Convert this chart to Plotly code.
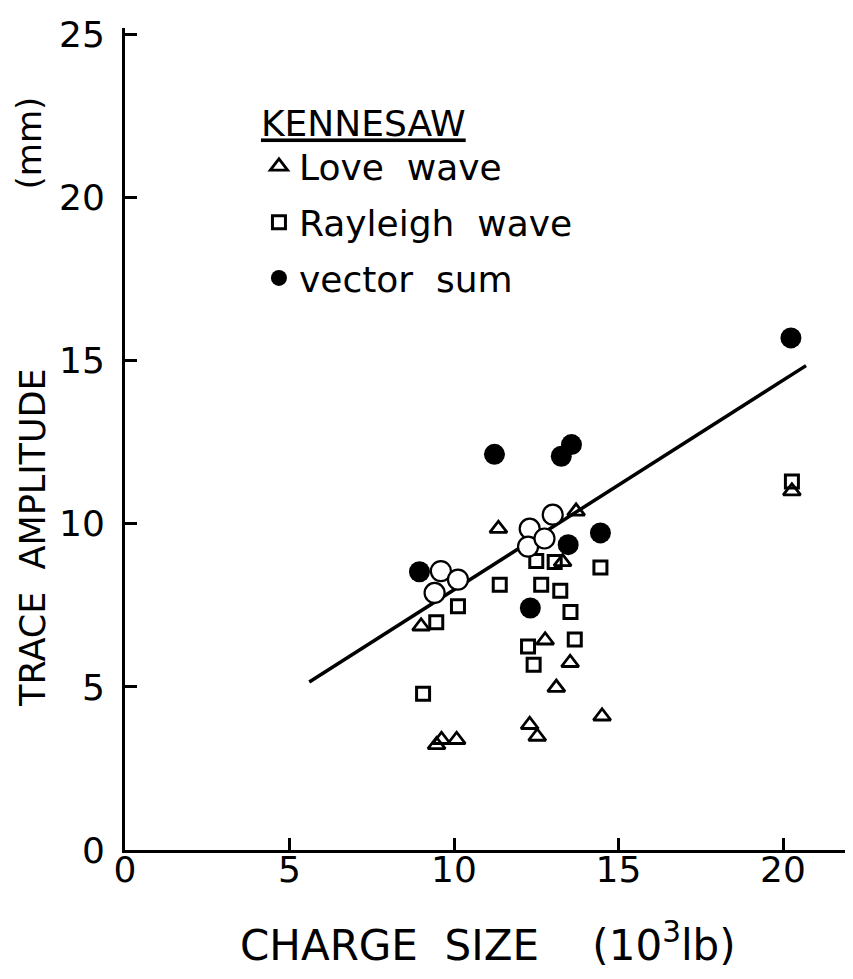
import plotly.graph_objects as go

# ---- data ----
love_x = [11.35, 13.71, 13.30, 9.00, 12.77, 13.53, 13.11, 14.50, 12.30, 12.53, 9.47, 9.62, 10.08, 20.27]
love_y = [9.85, 10.38, 8.83, 6.86, 6.43, 5.74, 4.98, 4.10, 3.84, 3.48, 3.22, 3.38, 3.38, 11.00]

rayleigh_x = [12.50, 13.06, 14.45, 11.39, 12.65, 13.23, 10.12, 13.54, 9.46, 12.25, 13.67, 12.42, 9.06, 20.27]
rayleigh_y = [8.86, 8.83, 8.66, 8.13, 8.13, 7.95, 7.47, 7.30, 6.98, 6.24, 6.45, 5.68, 4.79, 11.30]

vector_x = [11.23, 13.26, 13.57, 8.95, 12.32, 13.47, 14.45, 20.24]
vector_y = [12.13, 12.07, 12.43, 8.53, 7.42, 9.36, 9.72, 15.70]

# faded (poorly reproduced) vector-sum circles
vector_faded_x = [9.60, 9.41, 10.12, 12.30, 12.25, 12.75, 13.00]
vector_faded_y = [8.55, 7.88, 8.29, 9.85, 9.30, 9.55, 10.28]

fit_x = [5.6, 20.7]
fit_y = [5.15, 14.85]

x_ticks = [0, 5, 10, 15, 20]
y_ticks = [0, 5, 10, 15, 20, 25]

FONT = "DejaVu Sans"

fig = go.Figure()

fig.add_trace(go.Scatter(
    x=fit_x, y=fit_y, mode="lines", showlegend=False,
    line=dict(color="black", width=3.5)))

fig.add_trace(go.Scatter(
    x=love_x, y=love_y, mode="markers", name="Love  wave", legendgroup="a",
    marker=dict(symbol="triangle-up-open", size=15, color="black",
                line=dict(color="black", width=2.8))))

fig.add_trace(go.Scatter(
    x=rayleigh_x, y=rayleigh_y, mode="markers", name="Rayleigh  wave", legendgroup="b",
    marker=dict(symbol="square-open", size=13, color="black",
                line=dict(color="black", width=3))))

fig.add_trace(go.Scatter(
    x=vector_faded_x, y=vector_faded_y, mode="markers", showlegend=False,
    marker=dict(symbol="circle", size=20, color="white",
                line=dict(color="black", width=2.2))))

fig.add_trace(go.Scatter(
    x=vector_x, y=vector_y, mode="markers", name="vector  sum", legendgroup="c",
    marker=dict(symbol="circle", size=21, color="black",
                line=dict(color="black", width=0))))

fig.update_layout(
    width=853, height=979,
    margin=dict(l=117, r=0, t=20, b=137),
    paper_bgcolor="white", plot_bgcolor="white",
    font=dict(family=FONT, color="black"),
    showlegend=True,
    legend=dict(
        x=0.182, y=0.925, xanchor="left", yanchor="top",
        bgcolor="rgba(0,0,0,0)", borderwidth=0,
        font=dict(family=FONT, size=36, color="black"),
        title=dict(text="<u>KENNESAW</u>", side="top",
                   font=dict(family=FONT, size=36, color="black")),
        tracegroupgap=6, itemsizing="trace",
    ),
    xaxis=dict(
        range=[0, 22.37], tickmode="array", tickvals=x_ticks,
        ticktext=[str(v) for v in x_ticks],
        ticks="inside", ticklen=12, tickwidth=2.5, tickcolor="black",
        showline=True, linecolor="black", linewidth=3,
        showgrid=False, zeroline=False,
        tickfont=dict(family=FONT, size=36, color="black"),
        ticklabelstandoff=-14,
    ),
    yaxis=dict(
        range=[0, 25.2], tickmode="array", tickvals=y_ticks,
        ticktext=[str(v) for v in y_ticks],
        ticks="inside", ticklen=12, tickwidth=2.5, tickcolor="black",
        showline=True, linecolor="black", linewidth=3,
        showgrid=False, zeroline=False,
        tickfont=dict(family=FONT, size=36, color="black"),
        ticklabelstandoff=10,
    ),
    annotations=[
        dict(text="CHARGE  SIZE    (10<sup>3</sup>lb)", xref="paper", yref="paper",
             x=0.493, y=-0.113, xanchor="center", yanchor="middle", showarrow=False,
             font=dict(family=FONT, size=42, color="black")),
        dict(text="TRACE  AMPLITUDE", xref="paper", yref="paper",
             x=-0.126, y=0.38, xanchor="center", yanchor="middle", showarrow=False,
             textangle=-90, font=dict(family=FONT, size=35, color="black")),
        dict(text="(mm)", xref="paper", yref="paper",
             x=-0.13, y=0.86, xanchor="center", yanchor="middle", showarrow=False,
             textangle=-90, font=dict(family=FONT, size=34, color="black")),
    ],
)

fig.write_html("out.html")
